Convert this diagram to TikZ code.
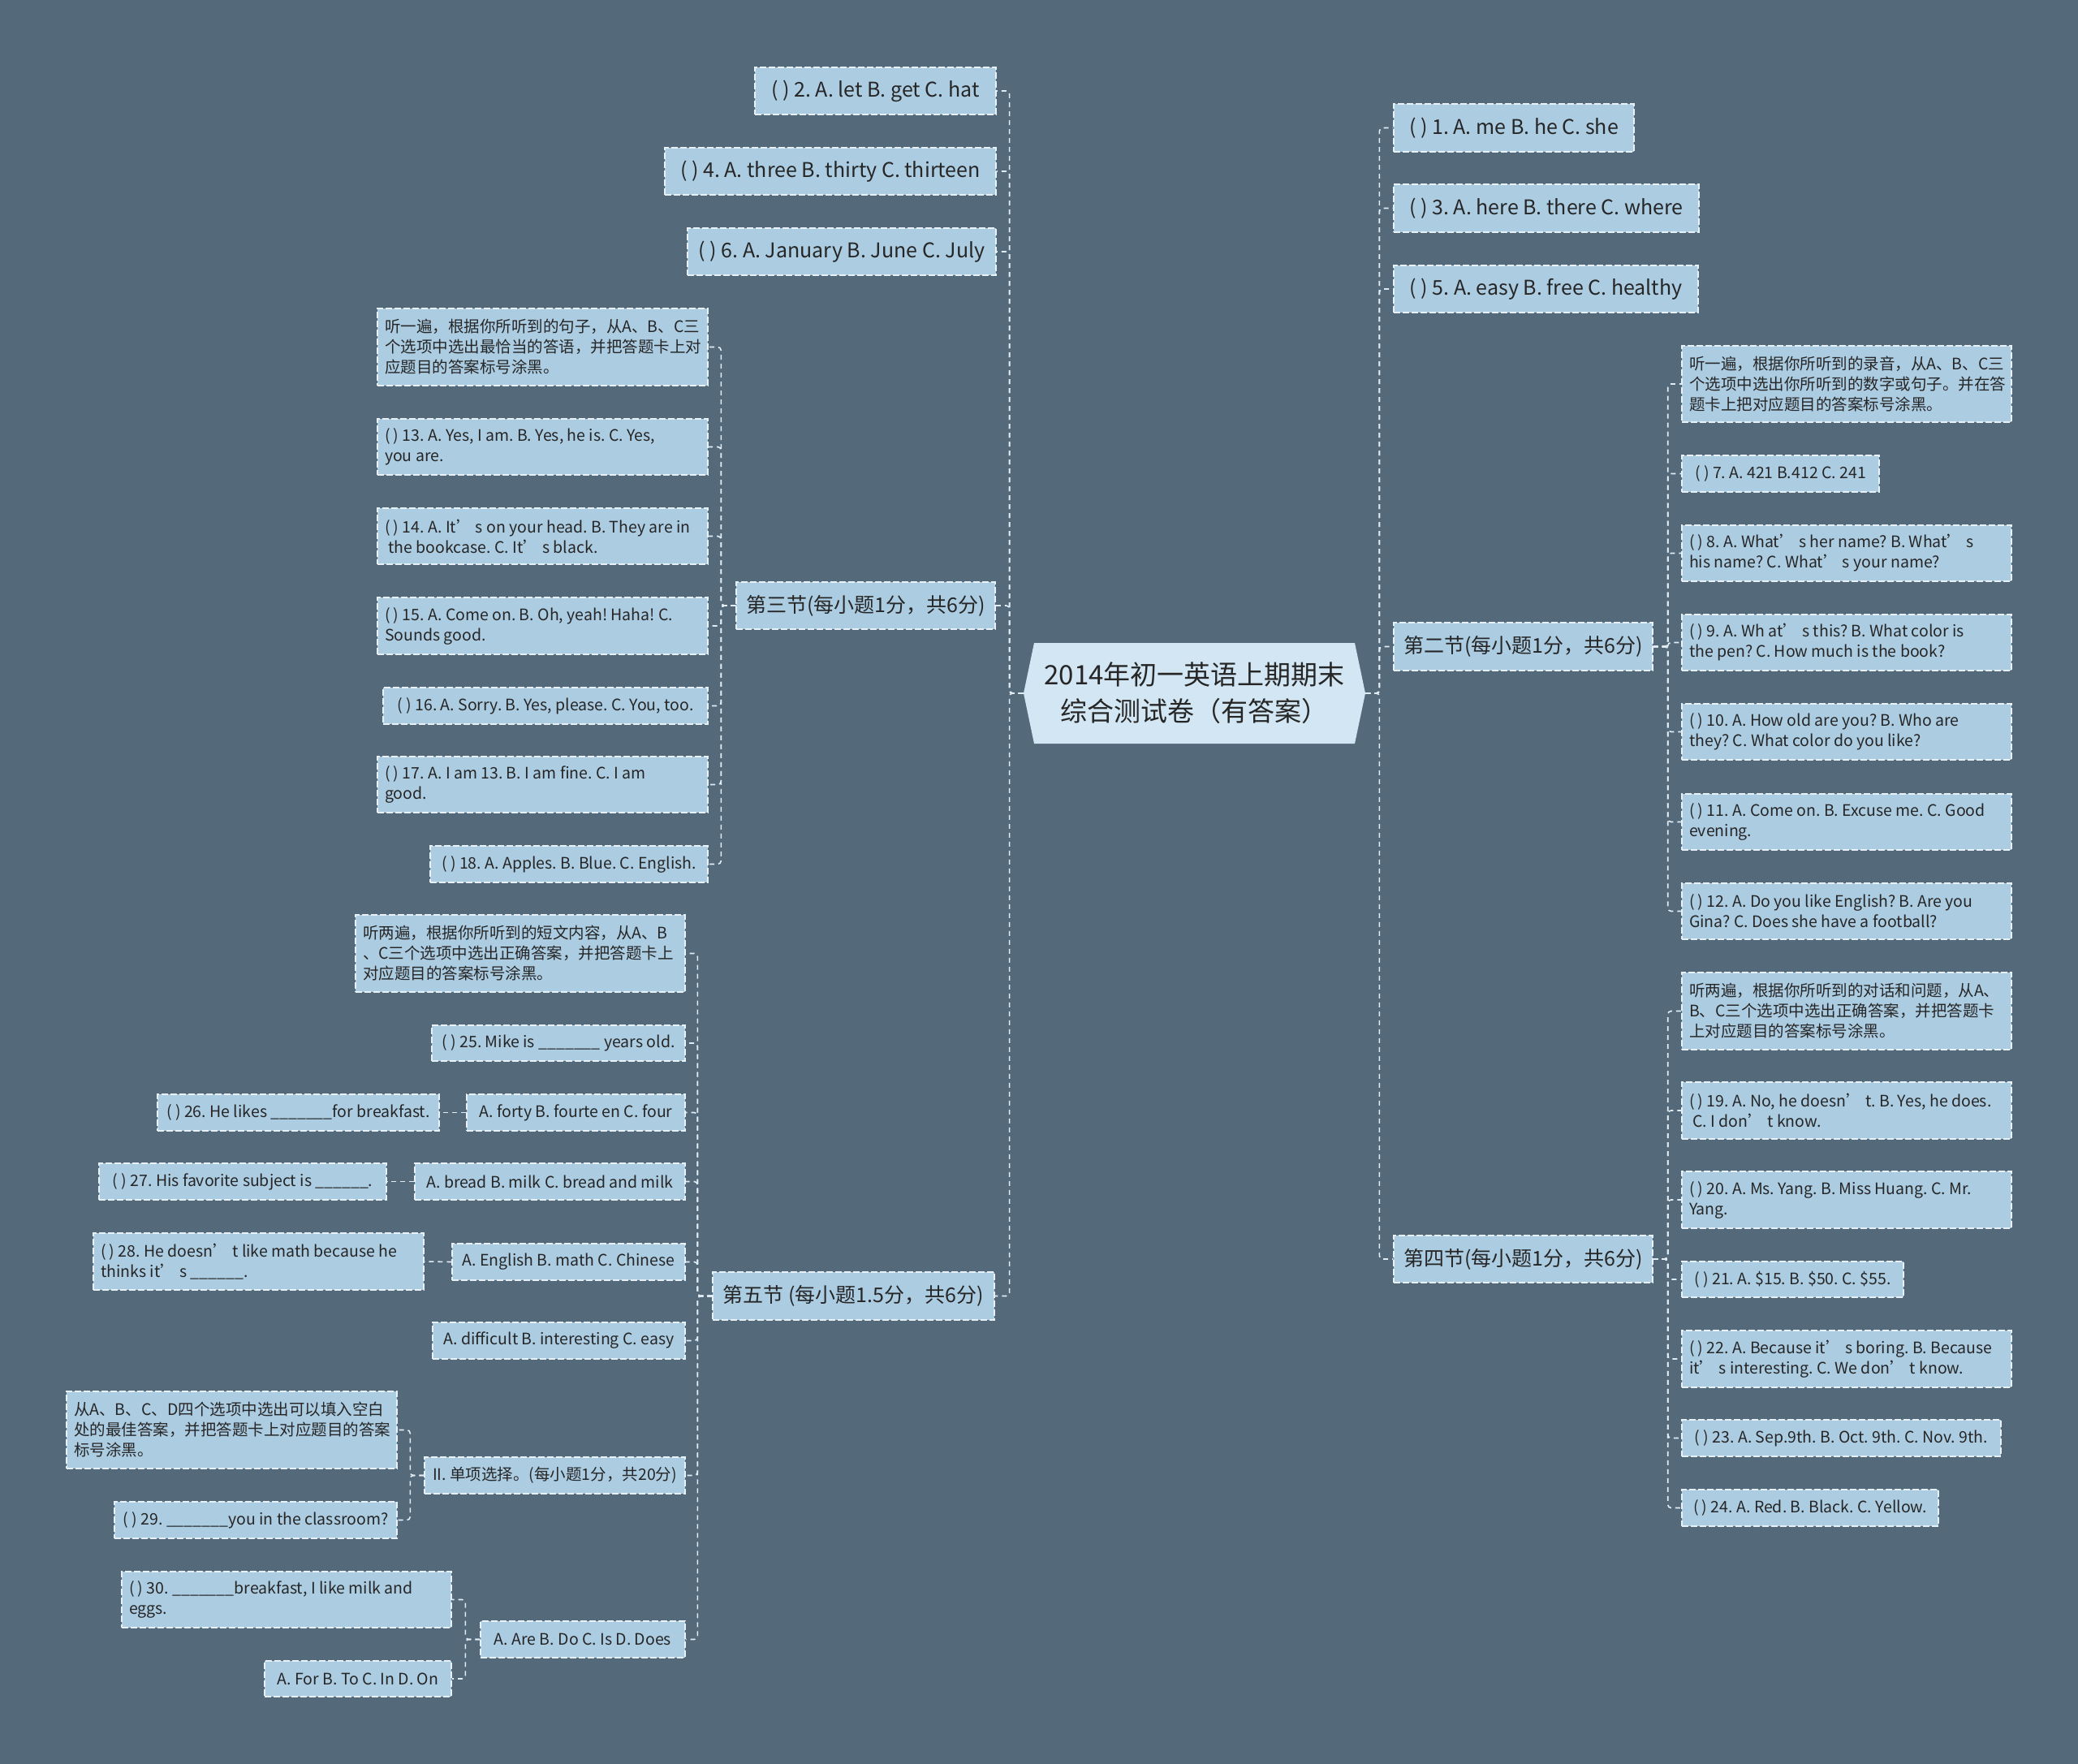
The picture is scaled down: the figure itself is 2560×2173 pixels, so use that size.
\documentclass[tikz,border=0pt]{standalone}
\usepackage{fontspec}
\setmainfont{Noto Sans CJK SC}
\frenchspacing
\hyphenpenalty=10000
\exhyphenpenalty=10000
\definecolor{bg}{RGB}{84,106,123}
\definecolor{nodef}{RGB}{172,204,226}
\definecolor{titlef}{RGB}{210,231,243}
\definecolor{bordc}{RGB}{232,241,248}
\definecolor{connc}{RGB}{226,236,244}
\definecolor{txt}{RGB}{38,38,38}
\newcommand\bxnode[7]{%
  \pgfmathsetlengthmacro\bxw{0.5pt*(#4-#2)}%
  \pgfmathsetlengthmacro\bxt{0.5pt*(#4-#2)-9pt}%
  \pgfmathsetlengthmacro\bxh{0.5pt*(#5-#3)}%
  \node[#6, minimum width=\bxw, minimum height=\bxh, text width=\bxt] (#1) at ({(#2+#4)/2},{(#3+#5)/2}) {#7};}
\tikzset{
  box/.style={draw=bordc, fill=nodef, dash pattern=on 4pt off 1.5pt, line width=0.7pt, text=txt, inner xsep=4.5pt, inner ysep=0pt},
  big/.style={box, font=\fontsize{12.5}{15}\selectfont, align=flush center},
  sm/.style={box, font=\fontsize{9.75}{12.5}\selectfont, align=flush left},
  smc/.style={sm, align=flush center},
  conn/.style={draw=connc, line width=0.8pt, dash pattern=on 3pt off 2.5pt, rounded corners=2pt},
}
\begin{document}
\begin{tikzpicture}[x=0.5pt,y=-0.5pt]
\fill[bg] (0,0) rectangle (2560,2173);
\useasboundingbox (0,0) rectangle (2560,2173);

% root
\node[minimum width=210.5pt, minimum height=62pt, inner sep=0pt, align=center, text=txt,
  font=\fontsize{16.5}{22.5}\selectfont,
  path picture={\fill[titlef] (path picture bounding box.west) -- ([xshift=6.5pt]path picture bounding box.north west) -- ([xshift=-6.5pt]path picture bounding box.north east) -- (path picture bounding box.east) -- ([xshift=-6.5pt]path picture bounding box.south east) -- ([xshift=6.5pt]path picture bounding box.south west) -- cycle;}]
  (root) at (1471.5,854) {2014年初一英语上期期末\\综合测试卷（有答案）};

% left level 1
\bxnode{n2}{930}{83}{1227}{141}{big}{( ) 2. A. let B. get C. hat}
\bxnode{n4}{819}{182}{1227}{240}{big}{( ) 4. A. three B. thirty C. thirteen}
\bxnode{n6}{847}{281}{1227}{339}{big}{( ) 6. A. January B. June C. July}
\bxnode{sec3}{907}{717}{1226}{775}{big}{第三节(每小题1分，共6分)}
\bxnode{sec5}{878}{1567}{1225}{1626}{big}{第五节 (每小题1.5分，共6分)}

% right level 1
\bxnode{r1}{1717}{128}{2013}{187}{big}{( ) 1. A. me B. he C. she}
\bxnode{r3}{1717}{227}{2093}{286}{big}{( ) 3. A. here B. there C. where}
\bxnode{r5}{1717}{327}{2092}{385}{big}{( ) 5. A. easy B. free C. healthy}
\bxnode{sec2}{1717}{767}{2036}{826}{big}{第二节(每小题1分，共6分)}
\bxnode{sec4}{1717}{1522}{2036}{1580}{big}{第四节(每小题1分，共6分)}

% section 3 children
\bxnode{instr3}{465}{380}{872}{475}{sm}{听一遍，根据你所听到的句子，从A、B、C三\\个选项中选出最恰当的答语，并把答题卡上对\\应题目的答案标号涂黑。}
\bxnode{q13}{465}{516}{872}{585}{sm}{( ) 13. A. Yes, I am. B. Yes, he is. C. Yes,\\you are.}
\bxnode{q14}{465}{626}{872}{695}{sm}{( ) 14. A. It’ s on your head. B. They are in\\\ the bookcase. C. It’ s black.}
\bxnode{q15}{465}{736}{872}{806}{sm}{( ) 15. A. Come on. B. Oh, yeah! Haha! C.\\Sounds good.}
\bxnode{q16}{472}{847}{872}{892}{smc}{( ) 16. A. Sorry. B. Yes, please. C. You, too.}
\bxnode{q17}{465}{932}{872}{1001}{sm}{( ) 17. A. I am 13. B. I am fine. C. I am\\good.}
\bxnode{q18}{530}{1042}{872}{1087}{smc}{( ) 18. A. Apples. B. Blue. C. English.}

% section 2 children
\bxnode{instr2}{2072}{426}{2478}{520}{sm}{听一遍，根据你所听到的录音，从A、B、C三\\个选项中选出你所听到的数字或句子。并在答\\题卡上把对应题目的答案标号涂黑。}
\bxnode{q7}{2072}{561}{2315}{606}{smc}{( ) 7. A. 421 B.412 C. 241}
\bxnode{q8}{2072}{647}{2478}{716}{sm}{( ) 8. A. What’ s her name? B. What’ s\\his name? C. What’ s your name?}
\bxnode{q9}{2072}{757}{2478}{826}{sm}{( ) 9. A. Wh at’ s this? B. What color is\\the pen? C. How much is the book?}
\bxnode{q10}{2072}{867}{2478}{936}{sm}{( ) 10. A. How old are you? B. Who are\\they? C. What color do you like?}
\bxnode{q11}{2072}{978}{2478}{1047}{sm}{( ) 11. A. Come on. B. Excuse me. C. Good\\evening.}
\bxnode{q12}{2072}{1088}{2478}{1157}{sm}{( ) 12. A. Do you like English? B. Are you\\Gina? C. Does she have a football?}

% section 4 children
\bxnode{instr4}{2072}{1198}{2478}{1293}{sm}{听两遍，根据你所听到的对话和问题，从A、\\B、C三个选项中选出正确答案，并把答题卡\\上对应题目的答案标号涂黑。}
\bxnode{q19}{2072}{1333}{2478}{1403}{sm}{( ) 19. A. No, he doesn’ t. B. Yes, he does.\\\ C. I don’ t know.}
\bxnode{q20}{2072}{1443}{2478}{1513}{sm}{( ) 20. A. Ms. Yang. B. Miss Huang. C. Mr.\\Yang.}
\bxnode{q21}{2072}{1554}{2345}{1598}{smc}{( ) 21. A. \$15. B. \$50. C. \$55.}
\bxnode{q22}{2072}{1639}{2478}{1709}{sm}{( ) 22. A. Because it’ s boring. B. Because\\it’ s interesting. C. We don’ t know.}
\bxnode{q23}{2072}{1749}{2465}{1794}{smc}{( ) 23. A. Sep.9th. B. Oct. 9th. C. Nov. 9th.}
\bxnode{q24}{2072}{1835}{2388}{1880}{smc}{( ) 24. A. Red. B. Black. C. Yellow.}

% section 5 children
\bxnode{instr5}{438}{1127}{844}{1222}{sm}{听两遍，根据你所听到的短文内容，从A、B\\、C三个选项中选出正确答案，并把答题卡上\\对应题目的答案标号涂黑。}
\bxnode{q25}{532}{1263}{844}{1307}{smc}{( ) 25. Mike is \_\_\_\_\_\_\_ years old.}
\bxnode{opt26}{575}{1348}{844}{1393}{smc}{A. forty B. fourte en C. four}
\bxnode{q26}{194}{1348}{541}{1393}{smc}{( ) 26. He likes \_\_\_\_\_\_\_for breakfast.}
\bxnode{q27}{122}{1433}{476}{1478}{smc}{( ) 27. His favorite subject is \_\_\_\_\_\_.}
\bxnode{opt27}{511}{1433}{844}{1478}{smc}{A. bread B. milk C. bread and milk}
\bxnode{q28}{115}{1519}{522}{1589}{sm}{( ) 28. He doesn’ t like math because he\\thinks it’ s \_\_\_\_\_\_.}
\bxnode{opt28}{557}{1532}{844}{1577}{smc}{A. English B. math C. Chinese}
\bxnode{optE}{533}{1629}{844}{1674}{smc}{A. difficult B. interesting C. easy}
\bxnode{instrII}{82}{1714}{489}{1809}{sm}{从A、B、C、D四个选项中选出可以填入空白\\处的最佳答案，并把答题卡上对应题目的答案\\标号涂黑。}
\bxnode{secII}{523}{1795}{844}{1840}{smc}{II. 单项选择。(每小题1分，共20分)}
\bxnode{q29}{141}{1850}{489}{1895}{smc}{( ) 29. \_\_\_\_\_\_\_you in the classroom?}
\bxnode{q30}{150}{1936}{556}{2005}{sm}{( ) 30. \_\_\_\_\_\_\_breakfast, I like milk and\\eggs.}
\bxnode{optAre}{592}{1997}{844}{2042}{smc}{A. Are B. Do C. Is D. Does}
\bxnode{optFor}{326}{2046}{556}{2090}{smc}{A. For B. To C. In D. On}

% connectors
\foreach \c in {n2,n4,n6,sec3,sec5}
  \draw[conn] (root.west) -- ++(-17,0) |- (\c.east);
\foreach \c in {r1,r3,r5,sec2,sec4}
  \draw[conn] (root.east) -- ++(17,0) |- (\c.west);
\foreach \c in {instr3,q13,q14,q15,q16,q17,q18}
  \draw[conn] (sec3.west) -- ++(-18,0) |- (\c.east);
\foreach \c in {instr2,q7,q8,q9,q10,q11,q12}
  \draw[conn] (sec2.east) -- ++(18,0) |- (\c.west);
\foreach \c in {instr4,q19,q20,q21,q22,q23,q24}
  \draw[conn] (sec4.east) -- ++(18,0) |- (\c.west);
\foreach \c in {instr5,q25,opt26,opt27,opt28,optE,secII,optAre}
  \draw[conn] (sec5.west) -- ++(-18,0) |- (\c.east);
\draw[conn] (opt26.west) -- (q26.east);
\draw[conn] (opt27.west) -- (q27.east);
\draw[conn] (opt28.west) -- (q28.east);
\foreach \c in {instrII,q29}
  \draw[conn] (secII.west) -- ++(-17,0) |- (\c.east);
\foreach \c in {q30,optFor}
  \draw[conn] (optAre.west) -- ++(-18,0) |- (\c.east);
\end{tikzpicture}
\end{document}
